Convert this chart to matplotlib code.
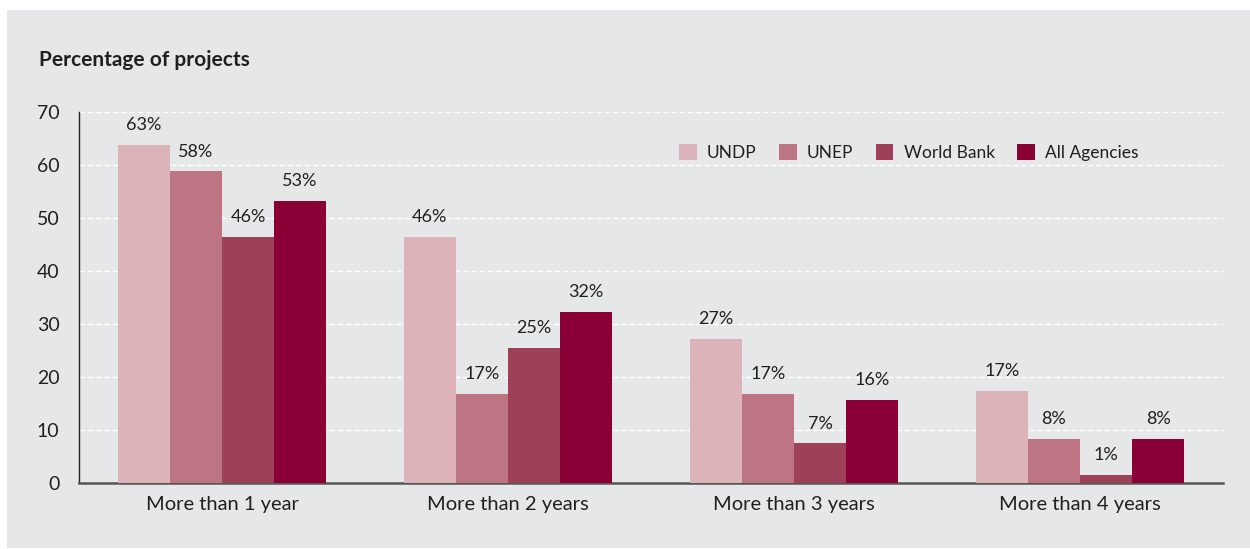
import numpy as np
import matplotlib.pyplot as plt
from matplotlib.patches import Rectangle

plt.rcParams['font.family'] = ['Lato', 'DejaVu Sans']

categories = ["More than 1 year", "More than 2 years", "More than 3 years", "More than 4 years"]
agencies = ["UNDP", "UNEP", "World Bank", "All Agencies"]
# bar heights, labels as printed
undp = [63.8, 46.4, 27.2, 17.4]
unep = [58.8, 16.8, 16.8, 8.3]
world_bank = [46.5, 25.5, 7.5, 1.5]
all_agencies = [53.3, 32.3, 15.7, 8.3]
undp_lbl = ["63%", "46%", "27%", "17%"]
unep_lbl = ["58%", "17%", "17%", "8%"]
wb_lbl = ["46%", "25%", "7%", "1%"]
all_lbl = ["53%", "32%", "16%", "8%"]

colors = ["#dbb3b8", "#bd7583", "#9e4158", "#8a0036"]
txt = "#231f20"

fig = plt.figure(figsize=(12.5, 5.49), dpi=100)
fig.patches.append(Rectangle((0.0056, 0.002), 0.9944, 0.980, transform=fig.transFigure,
                             facecolor="#e6e7e8", edgecolor="none", zorder=0))
ax = fig.add_axes([0.0632, 0.1202, 0.9152, 0.6758])
ax.set_zorder(2)
ax.set_facecolor("none")

x = np.arange(len(categories))
w = 0.182
series = [undp, unep, world_bank, all_agencies]
labels = [undp_lbl, unep_lbl, wb_lbl, all_lbl]
for i, (vals, lbls) in enumerate(zip(series, labels)):
    pos = x + (i - 1.5) * w
    ax.bar(pos, vals, width=w, color=colors[i], label=agencies[i], zorder=3)
    for p, v, l in zip(pos, vals, lbls):
        ax.text(p, v + 2.2, l, ha="center", va="bottom", fontsize=13, color=txt)

ax.set_xlim(-0.5, 3.5)
ax.set_ylim(0, 70)
ax.set_yticks(range(0, 71, 10))
ax.set_xticks(x)
ax.set_xticklabels(categories)
ax.tick_params(axis="both", length=0, labelsize=14.5, colors=txt)
ax.tick_params(axis="x", pad=9)
ax.tick_params(axis="y", pad=14)
for t in ax.get_yticklabels():
    t.set_fontsize(14)
ax.yaxis.grid(True, color="white", linestyle=(0, (4, 2)), linewidth=1)
ax.set_axisbelow(True)
for s in ["top", "right"]:
    ax.spines[s].set_visible(False)
ax.spines["left"].set_color("#231f20")
ax.spines["left"].set_linewidth(1)
ax.spines["bottom"].set_color("#555555")
ax.spines["bottom"].set_linewidth(1.8)

ax.legend(loc="upper right", bbox_to_anchor=(0.94, 0.955), ncol=4, frameon=False,
          fontsize=12.5, handlelength=1.0, handleheight=1.0, handletextpad=0.6,
          columnspacing=1.3, labelcolor=txt)

fig.text(0.031, 0.89, "Percentage of projects", fontsize=15, fontweight="bold",
         color=txt, va="center")

fig.savefig("out.png", dpi=100, facecolor="white")
